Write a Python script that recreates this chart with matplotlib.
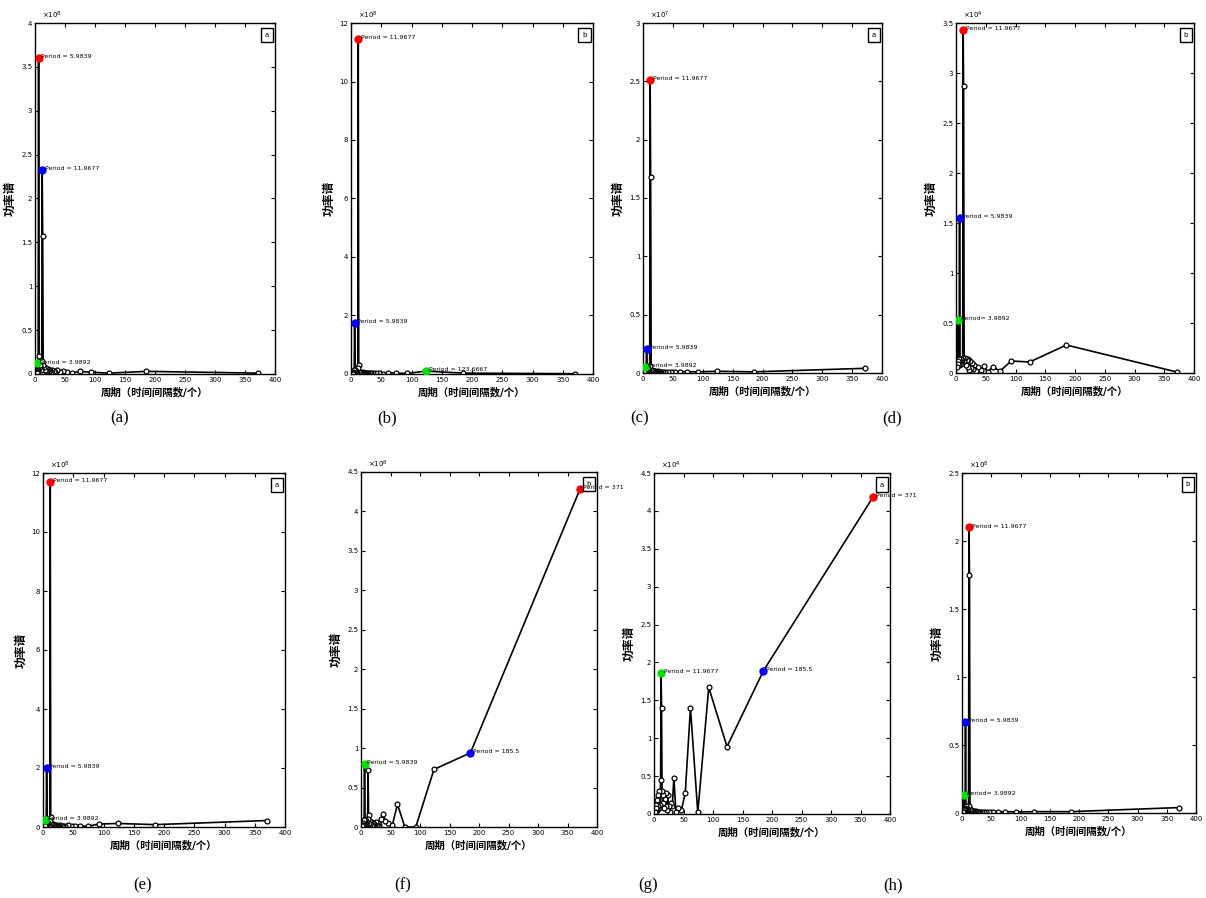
import matplotlib
matplotlib.use('Agg')
import matplotlib.pyplot as plt
from matplotlib.ticker import FuncFormatter

plt.rcParams['font.family'] = ['DejaVu Sans', 'Noto Sans CJK SC']

# period axis (shared by all panels)
period = [371, 185.5, 123.7, 92.8, 74.2, 61.8, 53.0, 46.4, 41.2, 37.1,
          33.7, 30.9, 28.5, 26.5, 24.7, 23.2, 21.8, 20.6, 19.5, 18.6,
          17.7, 16.1, 14.8, 13.7, 12.8, 11.97, 11.2, 10.3, 9.3, 8.4,
          7.6, 6.8, 5.98, 5.3, 4.7, 4.3, 3.99, 3.5, 3.0, 2.5]

power_a = [0.01, 0.03, 0.01, 0.02, 0.03, 0.01, 0.02, 0.03, 0.02, 0.04,
           0.02, 0.03, 0.05, 0.02, 0.04, 0.03, 0.06, 0.02, 0.05, 0.03,
           0.07, 0.04, 0.08, 0.10, 1.57, 2.33, 0.15, 0.06, 0.05, 0.08,
           0.10, 0.20, 3.60, 0.12, 0.05, 0.04, 0.12, 0.03, 0.02, 0.01]
power_b = [0.01, 0.03, 0.10, 0.02, 0.03, 0.05, 0.01, 0.04, 0.02, 0.03,
           0.02, 0.04, 0.03, 0.05, 0.02, 0.03, 0.04, 0.06, 0.02, 0.03,
           0.05, 0.04, 0.06, 0.08, 0.30, 11.45, 0.20, 0.06, 0.05, 0.07,
           0.10, 0.15, 1.75, 0.12, 0.05, 0.04, 0.08, 0.03, 0.02, 0.01]
power_c = [0.04, 0.01, 0.015, 0.01, 0.012, 0.01, 0.012, 0.008, 0.01, 0.01,
           0.008, 0.01, 0.012, 0.01, 0.015, 0.01, 0.012, 0.014, 0.01, 0.013,
           0.015, 0.02, 0.02, 0.03, 1.68, 2.51, 0.06, 0.03, 0.02, 0.03,
           0.04, 0.06, 0.21, 0.05, 0.03, 0.02, 0.05, 0.02, 0.01, 0.01]
power_d = [0.01, 0.28, 0.11, 0.12, 0.02, 0.06, 0.01, 0.07, 0.03, 0.06,
           0.02, 0.08, 0.04, 0.10, 0.05, 0.12, 0.03, 0.14, 0.06, 0.10,
           0.13, 0.08, 0.15, 0.12, 2.87, 3.43, 0.15, 0.10, 0.13, 0.09,
           0.14, 0.12, 1.55, 0.10, 0.14, 0.08, 0.53, 0.12, 0.09, 0.06]
power_e = [0.22, 0.08, 0.12, 0.10, 0.03, 0.02, 0.05, 0.03, 0.06, 0.04,
           0.05, 0.03, 0.06, 0.04, 0.05, 0.07, 0.03, 0.06, 0.05, 0.08,
           0.06, 0.09, 0.10, 0.12, 0.35, 11.70, 0.20, 0.10, 0.08, 0.12,
           0.15, 0.18, 2.00, 0.15, 0.08, 0.06, 0.25, 0.05, 0.04, 0.02]
power_f = [4.28, 0.94, 0.73, 0.00, 0.00, 0.29, 0.02, 0.05, 0.08, 0.17,
           0.10, 0.03, 0.05, 0.02, 0.06, 0.03, 0.04, 0.02, 0.05, 0.03,
           0.06, 0.04, 0.08, 0.05, 0.15, 0.72, 0.10, 0.06, 0.04, 0.08,
           0.05, 0.10, 0.80, 0.07, 0.04, 0.09, 0.05, 0.03, 0.02, 0.01]
power_g = [4.18, 1.89, 0.89, 1.67, 0.02, 1.40, 0.28, 0.05, 0.08, 0.03,
           0.48, 0.10, 0.15, 0.02, 0.10, 0.25, 0.05, 0.28, 0.10, 0.20,
           0.08, 0.25, 0.15, 0.30, 1.40, 1.86, 0.45, 0.12, 0.30, 0.08,
           0.20, 0.10, 0.25, 0.05, 0.18, 0.06, 0.12, 0.04, 0.08, 0.02]
power_h = [0.04, 0.01, 0.01, 0.008, 0.01, 0.008, 0.01, 0.006, 0.008, 0.01,
           0.006, 0.008, 0.01, 0.008, 0.01, 0.012, 0.01, 0.012, 0.015, 0.01,
           0.015, 0.02, 0.02, 0.03, 1.75, 2.10, 0.05, 0.03, 0.02, 0.03,
           0.04, 0.05, 0.67, 0.04, 0.03, 0.02, 0.13, 0.02, 0.01, 0.01]

powers = [power_a, power_b, power_c, power_d, power_e, power_f, power_g, power_h]
exponents = [8, 8, 7, 4, 8, 8, 4, 8]
ymax = [4, 12, 3, 3.5, 12, 4.5, 4.5, 2.5]
ystep = [0.5, 2, 0.5, 0.5, 2, 0.5, 0.5, 0.5]
box_letters = ['a', 'b', 'a', 'b', 'a', 'b', 'a', 'b']
captions = ['(a)', '(b)', '(c)', '(d)', '(e)', '(f)', '(g)', '(h)']

# highlighted peaks: (index into period, colour, label)
peaks = [
    [(32, 'red', 'Period = 5.9839'), (25, 'blue', 'Period = 11.9677'), (36, '#00e000', 'Period = 3.9892')],
    [(25, 'red', 'Period = 11.9677'), (32, 'blue', 'Period = 5.9839'), (2, '#00e000', 'Period = 123.6667')],
    [(25, 'red', 'Period = 11.9677'), (32, 'blue', 'Period= 5.9839'), (36, '#00e000', 'Period= 3.9892')],
    [(25, 'red', 'Period = 11.9677'), (32, 'blue', 'Period = 5.9839'), (36, '#00e000', 'Period= 3.9892')],
    [(25, 'red', 'Period = 11.9677'), (32, 'blue', 'Period = 5.9839'), (36, '#00e000', 'Period = 3.9892')],
    [(0, 'red', 'Period = 371'), (1, 'blue', 'Period = 185.5'), (32, '#00e000', 'Period = 5.9839')],
    [(0, 'red', 'Period = 371'), (1, 'blue', 'Period = 185.5'), (25, '#00e000', 'Period = 11.9677')],
    [(25, 'red', 'Period = 11.9677'), (32, 'blue', 'Period = 5.9839'), (36, '#00e000', 'Period= 3.9892')],
]

W, H = 1206, 898
# axes boxes in pixels: left, right, top, bottom
boxes = [(35, 275, 23, 374), (351, 593, 23, 374), (643, 882, 23, 373), (956, 1194, 23, 373),
         (43, 285, 473, 827), (361, 597, 472, 827), (654, 890, 473, 814), (962, 1196, 473, 813)]
caption_pos = [(120, 418), (387, 418), (640, 418), (892, 418),
               (143, 885), (403, 885), (648, 885), (893, 885)]

fig = plt.figure(figsize=(W / 100, H / 100), dpi=100)

for i in range(8):
    l, r, t, b = boxes[i]
    ax = fig.add_axes([l / W, 1 - b / H, (r - l) / W, (b - t) / H])
    ax.plot(period, powers[i], '-o', color='black', lw=1.2, ms=3.5,
            mfc='white', mec='black', mew=0.9, zorder=2)
    for idx, col, lab in peaks[i]:
        ax.plot(period[idx], powers[i][idx], 'o', color=col, ms=5, zorder=3)
        ax.annotate(lab, (period[idx], powers[i][idx]), xytext=(2, 1),
                    textcoords='offset points', fontsize=4.5, va='center',
                    annotation_clip=False, zorder=4)
    ax.set_xlim(0, 400)
    ax.set_ylim(0, ymax[i])
    ax.set_xticks(range(0, 401, 50))
    n = int(round(ymax[i] / ystep[i]))
    ax.set_yticks([k * ystep[i] for k in range(n + 1)])
    ax.yaxis.set_major_formatter(FuncFormatter(lambda v, p: '%g' % v))
    ax.tick_params(direction='in', top=True, right=True, labelsize=5,
                   length=3, width=0.8, pad=2)
    for s in ax.spines.values():
        s.set_linewidth(1.0)
    ax.text(0.03, 1.005, r'$\times10^{%d}$' % exponents[i], transform=ax.transAxes,
            fontsize=5, va='bottom')
    ax.text(0.975, 0.975, box_letters[i], transform=ax.transAxes, ha='right', va='top',
            fontsize=5, bbox=dict(boxstyle='square,pad=0.6', fc='white', ec='black', lw=1))
    ax.set_ylabel('功率谱', fontsize=8.5, fontweight='bold', labelpad=3)
    ax.set_xlabel('周期（时间间隔数/个）', fontsize=7.5, fontweight='bold', labelpad=3)
    cx, cy = caption_pos[i]
    fig.text(cx / W, 1 - cy / H, captions[i], ha='center', va='center',
             fontsize=12, family='Liberation Serif')

plt.savefig('out.png', dpi=100)
plt.close()
